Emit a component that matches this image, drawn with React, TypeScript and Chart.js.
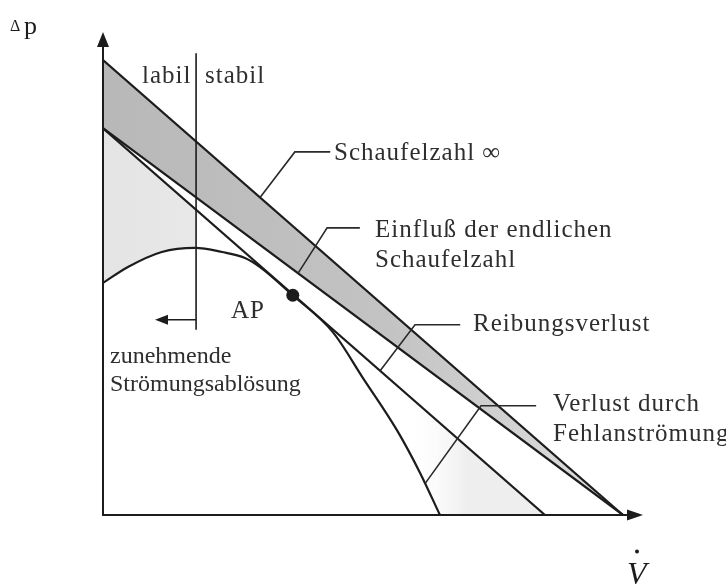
import { useEffect, useRef } from "react";
import { Chart, registerables } from "chart.js";

Chart.register(...registerables);

// Flow rate in % of the zero-head flow of the ideal (Euler) characteristic,
// pressure rise in % of the ideal shut-off pressure.
const qIdeal = [0, 100];
const dpIdeal = [100, 0]; // Schaufelzahl ∞
const qFinite = [0, 100];
const dpFinite = [85, 0]; // endliche Schaufelzahl
const qFriction = [0, 85];
const dpFriction = [85, 0]; // nach Abzug der Reibungsverluste
const qReal = [0, 4.8, 11.3, 17.7, 22.9, 27.3, 30.2, 36.5, 44.2, 50.0, 56.5, 61.0, 64.8];
const dpReal = [51.0, 54.5, 57.8, 58.7, 57.8, 56.5, 54.5, 48.3, 40.2, 30.1, 18.7, 9.2, 0];
const qDesign = [36.5]; // Auslegungspunkt AP
const dpDesign = [48.3];
const qStabilityLimit = [17.9, 17.9];
const dpStabilityLimit = [101.5, 40.7];

const X_MAX = 103.85;
const Y_MAX = 106.15;

const INK = "#1c1c1c";
const TEXT = "#2e2e2e";
const SERIF = '"Liberation Serif", "Times New Roman", serif';

// leader lines from the curves to their captions (data coordinates)
const leaders: [number, number][][] = [
  [[30.2, 69.8], [36.9, 79.8], [43.7, 79.8]],
  [[37.5, 53.1], [43.1, 63.1], [49.4, 63.1]],
  [[53.3, 31.7], [60.0, 41.8], [68.7, 41.8]],
  [[62.0, 7.0], [72.7, 24.0], [83.3, 24.0]],
];

// captions (canvas pixels: left edge, baseline); "wide" ones are set letter-spaced
const captions: { text: string; x: number; y: number; wide: boolean }[] = [
  { text: "labil", x: 142, y: 83, wide: true },
  { text: "stabil", x: 205, y: 83, wide: true },
  { text: "Schaufelzahl ∞", x: 334, y: 160, wide: true },
  { text: "Einfluß der endlichen", x: 375, y: 237, wide: true },
  { text: "Schaufelzahl", x: 375, y: 267, wide: true },
  { text: "AP", x: 231, y: 318, wide: true },
  { text: "Reibungsverlust", x: 473, y: 331, wide: true },
  { text: "zunehmende", x: 110, y: 363, wide: false },
  { text: "Strömungsablösung", x: 110, y: 391, wide: false },
  { text: "Verlust durch", x: 553, y: 411, wide: true },
  { text: "Fehlanströmung", x: 553, y: 441, wide: true },
];

const pts = (xs: number[], ys: number[]) => xs.map((x, i) => ({ x, y: ys[i] }));

const artwork = {
  id: "artwork",
  afterDatasetsDraw(chart: any) {
    const { ctx } = chart;
    const sx = chart.scales.x;
    const sy = chart.scales.y;
    const px = (v: number) => sx.getPixelForValue(v);
    const py = (v: number) => sy.getPixelForValue(v);
    ctx.save();

    // axes with arrow heads
    const x0 = px(0);
    const y0 = py(0);
    const yTop = py(Y_MAX);
    const xEnd = px(X_MAX);
    ctx.strokeStyle = INK;
    ctx.fillStyle = INK;
    ctx.lineWidth = 2;
    ctx.beginPath();
    ctx.moveTo(x0, yTop + 12);
    ctx.lineTo(x0, y0);
    ctx.lineTo(xEnd - 14, y0);
    ctx.stroke();
    ctx.beginPath();
    ctx.moveTo(x0, yTop);
    ctx.lineTo(x0 - 6, yTop + 15);
    ctx.lineTo(x0 + 6, yTop + 15);
    ctx.closePath();
    ctx.fill();
    ctx.beginPath();
    ctx.moveTo(xEnd, y0);
    ctx.lineTo(xEnd - 16, y0 - 5.5);
    ctx.lineTo(xEnd - 16, y0 + 5.5);
    ctx.closePath();
    ctx.fill();

    // arrow pointing to the unstable side
    const ay = py(42.9);
    const ax = px(qStabilityLimit[0]);
    const tip = px(10.0);
    ctx.lineWidth = 1.5;
    ctx.beginPath();
    ctx.moveTo(ax, ay);
    ctx.lineTo(tip + 10, ay);
    ctx.stroke();
    ctx.beginPath();
    ctx.moveTo(tip, ay);
    ctx.lineTo(tip + 13, ay - 5);
    ctx.lineTo(tip + 13, ay + 5);
    ctx.closePath();
    ctx.fill();

    // leader lines
    ctx.strokeStyle = "#2a2a2a";
    ctx.lineWidth = 1.6;
    for (const path of leaders) {
      ctx.beginPath();
      path.forEach(([qx, qy], i) => {
        if (i === 0) ctx.moveTo(px(qx), py(qy));
        else ctx.lineTo(px(qx), py(qy));
      });
      ctx.stroke();
    }

    // captions
    ctx.fillStyle = TEXT;
    ctx.textBaseline = "alphabetic";
    ctx.textAlign = "left";
    for (const c of captions) {
      ctx.font = c.wide ? `25px ${SERIF}` : `24px ${SERIF}`;
      ctx.letterSpacing = c.wide ? "1px" : "0px";
      ctx.fillText(c.text, c.x, c.y);
    }
    ctx.letterSpacing = "0px";

    // axis titles
    ctx.fillStyle = INK;
    ctx.font = `16px ${SERIF}`;
    ctx.fillText("Δ", 10, 31);
    ctx.font = `26px ${SERIF}`;
    ctx.fillText("p", 24, 34);
    ctx.font = `italic 32px ${SERIF}`;
    ctx.fillText("V", 627, 584);
    ctx.beginPath();
    ctx.arc(637, 551.5, 2, 0, Math.PI * 2);
    ctx.fill();

    ctx.restore();
  },
};

export default function App() {
  const ref = useRef<HTMLCanvasElement | null>(null);

  useEffect(() => {
    const canvas = ref.current;
    if (!canvas) return;

    const band = (c: any) => {
      const chart = c.chart;
      if (!chart.chartArea) return "#c0c0c0";
      const a = chart.scales.x.getPixelForValue(0);
      const b = chart.scales.x.getPixelForValue(100);
      const g = chart.ctx.createLinearGradient(a, 0, b, 0);
      g.addColorStop(0, "#b8b8b8");
      g.addColorStop(0.55, "#c3c3c3");
      g.addColorStop(1, "#e0e0e0");
      return g;
    };

    const lossShade = (c: any) => {
      const chart = c.chart;
      if (!chart.chartArea) return "#e8e8e8";
      const sx = chart.scales.x;
      const a = sx.getPixelForValue(0);
      const b = sx.getPixelForValue(100);
      const f = (v: number) => (sx.getPixelForValue(v) - a) / (b - a);
      const g = chart.ctx.createLinearGradient(a, 0, b, 0);
      g.addColorStop(0, "#e4e4e4");
      g.addColorStop(f(qStabilityLimit[0]), "#e8e8e8");
      g.addColorStop(f(qStabilityLimit[0]) + 0.001, "rgba(255,255,255,0)");
      g.addColorStop(f(58), "rgba(255,255,255,0)");
      g.addColorStop(f(70), "#eeeeee");
      g.addColorStop(1, "#eeeeee");
      return g;
    };

    const chart = new Chart(canvas, {
      type: "line",
      data: {
        datasets: [
          {
            label: "Schaufelzahl ∞",
            data: pts(qIdeal, dpIdeal),
            borderColor: INK,
            borderWidth: 2.2,
            fill: 1,
            backgroundColor: band,
          },
          {
            label: "endliche Schaufelzahl",
            data: pts(qFinite, dpFinite),
            borderColor: INK,
            borderWidth: 2.2,
            fill: false,
          },
          {
            label: "Kennlinie",
            data: pts(qReal, dpReal),
            borderColor: INK,
            borderWidth: 2.2,
            cubicInterpolationMode: "monotone",
            fill: "origin",
            backgroundColor: "#ffffff",
          },
          {
            label: "Reibungsverlust",
            data: pts(qFriction, dpFriction),
            borderColor: INK,
            borderWidth: 2.2,
            fill: "origin",
            backgroundColor: lossShade,
          },
          {
            label: "Stabilitätsgrenze",
            data: pts(qStabilityLimit, dpStabilityLimit),
            borderColor: INK,
            borderWidth: 1.6,
            fill: false,
          },
          {
            label: "AP",
            data: pts(qDesign, dpDesign),
            showLine: false,
            pointRadius: 6.5,
            pointBackgroundColor: INK,
            pointBorderWidth: 0,
            fill: false,
          },
        ],
      },
      options: {
        responsive: false,
        animation: false,
        events: [],
        layout: { padding: { left: 103, right: 83, top: 32, bottom: 71 } },
        elements: { point: { radius: 0 }, line: { tension: 0 } },
        scales: {
          x: { type: "linear", min: 0, max: X_MAX, display: false },
          y: { type: "linear", min: 0, max: Y_MAX, display: false },
        },
        plugins: {
          legend: { display: false },
          tooltip: { enabled: false },
          filler: { drawTime: "beforeDatasetsDraw" },
        },
      },
      plugins: [artwork],
    });

    return () => chart.destroy();
  }, []);

  return (
    <div style={{ position: "absolute", left: 0, top: 0, width: 726, height: 586, background: "#fff" }}>
      <canvas ref={ref} width={726} height={586} style={{ display: "block" }} />
    </div>
  );
}
